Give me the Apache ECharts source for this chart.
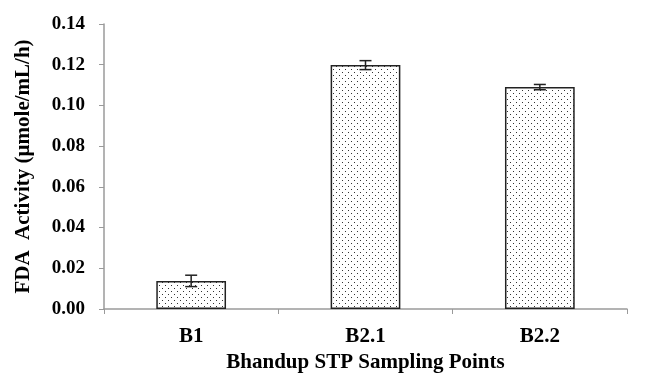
<!DOCTYPE html>
<html>
<head>
<meta charset="utf-8">
<script src="https://cdn.jsdelivr.net/npm/echarts@6/dist/echarts.min.js"></script>
<style>
  html, body { margin: 0; padding: 0; background: #fff; }
  #chart { width: 651px; height: 376px; }
</style>
</head>
<body>
<div id="chart"></div>
<script>
var categories = ['B1', 'B2.1', 'B2.2'];
var activity = [0.0138, 0.1198, 0.1090];
var errors = [0.0028, 0.0022, 0.0013];

var dom = document.getElementById('chart');
var myChart = echarts.init(dom);

// dotted fill, like the original pattern
var pat = document.createElement('canvas');
pat.width = 6; pat.height = 6;
var ctx = pat.getContext('2d');
ctx.fillStyle = '#fff';
ctx.fillRect(0, 0, 6, 6);
ctx.fillStyle = '#333';
ctx.fillRect(0, 0, 1, 1);
ctx.fillRect(3, 3, 1, 1);

var font = '"Liberation Serif", "Times New Roman", serif';

var errData = categories.map(function (c, i) {
    return [i, activity[i] - errors[i], activity[i] + errors[i]];
});

option = {
    backgroundColor: '#fff',
    animation: false,
    grid: { left: 104, right: 24, top: 24, bottom: 67, outerBoundsMode: 'none' },
    xAxis: {
        type: 'category',
        data: categories,
        name: 'Bhandup STP Sampling Points',
        nameLocation: 'middle',
        nameGap: 43,
        nameTextStyle: { fontFamily: font, fontWeight: 'bold', fontSize: 21, color: '#000' },
        axisLine: { lineStyle: { color: '#9a9a9a', width: 1.5 } },
        axisTick: { show: true, alignWithLabel: false, length: 5, lineStyle: { color: '#9a9a9a' } },
        axisLabel: { fontFamily: font, fontWeight: 'bold', fontSize: 21, color: '#000', margin: 17 }
    },
    yAxis: {
        type: 'value',
        min: 0, max: 0.14, interval: 0.02,
        name: 'FDA  Activity (µmole/mL/h)',
        nameLocation: 'middle',
        nameGap: 70,
        nameTextStyle: { fontFamily: font, fontWeight: 'bold', fontSize: 21, color: '#000' },
        axisLine: { show: true, lineStyle: { color: '#9a9a9a', width: 1.5 } },
        axisTick: { show: true, length: 5, lineStyle: { color: '#9a9a9a' } },
        splitLine: { show: false },
        axisLabel: {
            fontFamily: font, fontWeight: 'bold', fontSize: 19, color: '#000', margin: 19,
            formatter: function (v) { return v.toFixed(2); }
        }
    },
    series: [
        {
            type: 'bar',
            data: activity,
            barWidth: '40%',
            itemStyle: {
                color: { image: pat, repeat: 'repeat' },
                borderColor: '#222',
                borderWidth: 1.5
            }
        },
        {
            type: 'custom',
            data: errData,
            z: 10,
            renderItem: function (params, api) {
                var x = api.value(0);
                var lo = api.coord([x, api.value(1)]);
                var hi = api.coord([x, api.value(2)]);
                var hw = 6;
                var st = { stroke: '#222', lineWidth: 1.5 };
                return {
                    type: 'group',
                    children: [
                        { type: 'line', shape: { x1: lo[0], y1: lo[1], x2: hi[0], y2: hi[1] }, style: st },
                        { type: 'line', shape: { x1: lo[0] - hw, y1: lo[1], x2: lo[0] + hw, y2: lo[1] }, style: st },
                        { type: 'line', shape: { x1: hi[0] - hw, y1: hi[1], x2: hi[0] + hw, y2: hi[1] }, style: st }
                    ]
                };
            }
        }
    ]
};

if (option && typeof option === 'object') {
    myChart.setOption(option, true);
}
</script>
</body>
</html>
